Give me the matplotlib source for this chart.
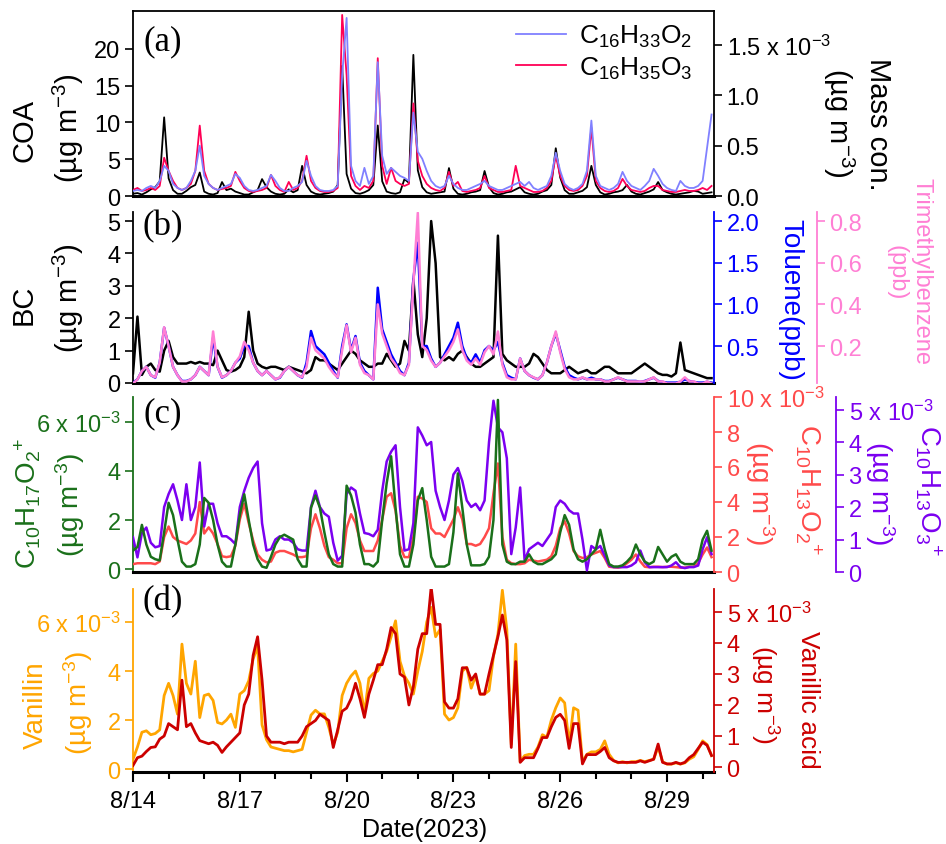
import matplotlib
matplotlib.use("Agg")
import matplotlib.pyplot as plt
import matplotlib.dates as mdates
import numpy as np
import pandas as pd

# ---------------- data (3-hourly, from 2023-08-14 00:00) ----------------
times = pd.date_range("2023-08-14 00:00", periods=131, freq="3h")

coa = [0.3,0.4,0.2,0.5,0.9,1.2,2.0,10.7,
       2.4,0.8,0.3,0.3,0.7,1.2,1.5,3.2,
       0.6,0.3,0.2,0.4,1.9,0.8,1.0,0.6,
       0.4,0.2,0.2,0.5,0.8,2.3,1.2,0.6,
       0.3,0.2,0.3,0.9,0.5,0.8,4.1,1.5,
       0.6,0.3,0.2,0.3,0.4,0.6,1.5,17.7,
       3.0,1.0,0.4,0.3,0.5,0.8,1.5,9.6,
       2.0,0.6,0.4,0.3,0.5,2.3,1.8,19.2,
       3.5,1.2,0.5,0.3,0.4,0.5,0.6,3.8,
       1.0,0.3,0.2,0.3,0.5,0.6,0.8,3.4,
       1.2,0.4,0.2,0.3,0.5,0.6,0.9,1.2,
       0.5,0.3,0.2,0.3,0.6,0.8,1.5,6.5,
       2.5,0.8,0.3,0.3,0.5,0.7,1.2,4.1,
       1.5,0.5,0.2,0.3,0.5,0.6,0.8,1.5,
       0.6,0.3,0.2,0.4,0.6,0.9,1.9,0.8,
       0.5,0.3,0.2,0.3,0.4,0.5,0.7,0.6,
       0.3,0.4,0.5]

c16h33o2 = [0.05,0.06,0.05,0.08,0.10,0.08,0.15,0.30,
            0.25,0.12,0.08,0.06,0.08,0.15,0.25,0.50,
            0.20,0.12,0.08,0.06,0.08,0.10,0.12,0.22,
            0.18,0.10,0.06,0.05,0.06,0.08,0.10,0.21,
            0.15,0.08,0.05,0.05,0.08,0.10,0.14,0.35,
            0.20,0.10,0.06,0.05,0.05,0.06,0.10,1.20,
            1.77,0.30,0.15,0.10,0.28,0.12,0.20,1.33,
            0.40,0.22,0.28,0.24,0.20,0.18,0.15,0.83,
            0.44,0.37,0.25,0.15,0.10,0.08,0.10,0.20,
            0.12,0.08,0.06,0.06,0.08,0.10,0.12,0.15,
            0.10,0.08,0.06,0.06,0.08,0.10,0.12,0.14,
            0.10,0.14,0.08,0.06,0.08,0.10,0.20,0.43,
            0.25,0.12,0.08,0.06,0.08,0.12,0.25,0.75,
            0.20,0.10,0.08,0.06,0.08,0.12,0.24,0.15,
            0.10,0.08,0.06,0.10,0.15,0.27,0.20,0.12,
            0.08,0.06,0.05,0.15,0.10,0.08,0.08,0.10,
            0.15,0.48,0.81]

c16h35o3 = [0.06,0.08,0.05,0.06,0.08,0.06,0.10,0.38,
            0.25,0.15,0.08,0.06,0.08,0.12,0.25,0.70,
            0.25,0.12,0.08,0.06,0.07,0.08,0.10,0.24,
            0.15,0.08,0.05,0.04,0.05,0.06,0.08,0.21,
            0.10,0.06,0.04,0.14,0.06,0.08,0.15,0.40,
            0.15,0.08,0.05,0.04,0.04,0.05,0.08,1.80,
            1.20,0.20,0.10,0.06,0.10,0.08,0.15,1.37,
            0.30,0.12,0.28,0.15,0.12,0.10,0.12,0.92,
            0.35,0.20,0.12,0.08,0.06,0.05,0.08,0.24,
            0.10,0.14,0.05,0.04,0.05,0.06,0.08,0.20,
            0.08,0.06,0.04,0.04,0.05,0.06,0.30,0.10,
            0.08,0.06,0.04,0.04,0.05,0.08,0.15,0.40,
            0.20,0.10,0.06,0.05,0.06,0.10,0.20,0.68,
            0.15,0.08,0.05,0.04,0.05,0.08,0.17,0.10,
            0.06,0.05,0.04,0.05,0.08,0.10,0.10,0.06,
            0.05,0.04,0.04,0.05,0.06,0.05,0.05,0.06,
            0.08,0.06,0.10]

bc = [0.3,2.05,0.25,0.5,0.6,0.4,0.35,1.0,
      1.3,0.8,0.6,0.6,0.6,0.65,0.6,0.65,
      0.6,0.6,0.55,1.0,0.7,0.4,0.35,0.4,
      0.5,0.8,2.2,1.0,0.6,0.5,0.45,0.5,
      0.5,0.45,0.4,0.5,0.45,0.4,0.35,0.3,
      0.4,0.8,0.7,0.7,0.6,0.5,0.4,0.6,
      0.8,1.0,0.9,0.7,0.6,0.5,0.5,0.6,
      0.6,0.9,0.7,0.5,0.6,1.3,1.0,3.2,
      1.5,0.8,2.0,5.0,3.7,0.8,0.7,0.8,
      0.7,0.9,1.0,0.8,0.6,0.5,0.5,0.6,
      0.7,0.8,4.55,0.9,0.7,0.6,0.5,0.5,
      0.5,0.6,0.9,0.8,0.6,0.4,0.3,0.3,
      0.3,0.4,0.5,0.4,0.3,0.35,0.4,0.3,
      0.3,0.4,0.5,0.5,0.4,0.3,0.3,0.3,
      0.3,0.4,0.5,0.6,0.5,0.4,0.3,0.25,
      0.25,0.2,0.3,1.25,0.4,0.35,0.3,0.25,
      0.2,0.15,0.15]

toluene = [0.06,0.1,0.2,0.25,0.15,0.12,0.3,0.72,
           0.5,0.25,0.15,0.08,0.08,0.1,0.15,0.25,
           0.2,0.15,0.6,0.25,0.12,0.15,0.2,0.3,
           0.35,0.5,0.5,0.3,0.2,0.15,0.2,0.15,
           0.1,0.12,0.2,0.25,0.2,0.15,0.12,0.3,
           0.68,0.5,0.45,0.4,0.3,0.2,0.12,0.5,
           0.76,0.45,0.62,0.3,0.2,0.15,0.1,1.2,
           0.7,0.55,0.4,0.3,0.2,0.15,0.3,1.3,
           1.74,0.5,0.5,0.35,0.25,0.3,0.4,0.5,
           0.6,0.78,0.5,0.35,0.3,0.4,0.3,0.45,
           0.5,0.45,0.55,0.3,0.15,0.12,0.1,0.35,
           0.2,0.15,0.12,0.1,0.15,0.3,0.5,0.65,
           0.45,0.25,0.15,0.12,0.1,0.12,0.1,0.12,
           0.1,0.1,0.08,0.08,0.1,0.12,0.1,0.08,
           0.08,0.08,0.07,0.08,0.1,0.12,0.08,0.07,
           0.06,0.06,0.06,0.07,0.1,0.08,0.07,0.06,
           0.06,0.07,0.06]

tmb = [0.02,0.04,0.08,0.1,0.06,0.05,0.12,0.29,
       0.2,0.1,0.06,0.03,0.03,0.04,0.06,0.1,
       0.08,0.06,0.27,0.1,0.05,0.06,0.08,0.12,
       0.15,0.22,0.18,0.12,0.08,0.06,0.08,0.06,
       0.04,0.05,0.08,0.1,0.08,0.06,0.05,0.1,
       0.24,0.18,0.16,0.14,0.1,0.07,0.05,0.18,
       0.3,0.17,0.24,0.11,0.07,0.06,0.04,0.4,
       0.26,0.2,0.14,0.11,0.07,0.06,0.11,0.5,
       0.84,0.2,0.18,0.13,0.1,0.12,0.15,0.18,
       0.22,0.28,0.18,0.13,0.11,0.14,0.11,0.17,
       0.2,0.16,0.27,0.11,0.05,0.04,0.04,0.14,
       0.08,0.06,0.05,0.04,0.06,0.12,0.2,0.27,
       0.17,0.09,0.05,0.04,0.04,0.05,0.04,0.04,
       0.04,0.04,0.03,0.03,0.04,0.05,0.04,0.03,
       0.03,0.03,0.03,0.03,0.04,0.05,0.03,0.03,
       0.02,0.02,0.02,0.03,0.05,0.03,0.03,0.02,
       0.02,0.03,0.02]

c10h17o2 = [0.75,0.9,1.8,1.0,0.5,0.4,0.35,1.5,
            2.7,2.2,1.2,0.3,0.1,0.1,0.2,1.0,
            2.9,2.7,2.0,1.0,0.3,0.1,0.1,1.0,
            2.2,3.05,2.0,1.0,0.4,0.1,0.05,0.5,
            1.0,1.3,1.4,1.3,1.2,0.4,0.1,0.1,
            2.5,3.0,2.5,1.5,0.6,0.2,0.1,0.1,
            3.4,3.0,2.3,1.0,0.2,0.2,0.1,0.3,
            2.0,3.5,4.6,2.5,0.6,0.1,0.1,1.0,
            2.8,3.3,2.0,0.5,0.1,0.1,0.1,0.2,
            1.5,3.9,2.5,1.0,0.15,0.15,0.15,0.2,
            0.5,2.0,6.9,1.0,0.3,0.2,0.2,0.3,
            0.3,0.6,0.3,0.2,0.2,0.3,0.4,0.6,
            1.5,2.2,1.8,0.8,0.4,0.3,0.4,0.6,
            0.8,1.6,0.8,0.2,0.1,0.1,0.15,0.3,
            0.5,1.0,0.6,0.3,0.2,0.3,0.9,0.6,
            0.3,0.5,0.6,0.3,0.2,0.2,0.2,0.4,
            1.2,1.56,0.75]

c10h13o2 = [0.45,0.5,0.5,0.5,0.5,0.45,0.6,2.0,
            2.6,2.0,1.8,1.7,1.6,1.8,2.2,4.0,
            2.2,2.55,2.2,1.6,0.9,0.85,0.9,1.5,
            3.0,3.9,2.8,1.8,1.0,0.7,0.55,0.6,
            1.1,1.2,1.2,1.1,1.0,0.85,0.85,0.9,
            2.5,3.3,2.5,1.5,0.85,0.7,0.5,0.5,
            2.5,3.3,2.8,1.8,1.2,1.2,1.2,1.8,
            3.0,4.3,4.5,3.5,1.5,0.85,0.85,2.0,
            4.3,4.2,4.0,2.5,2.2,2.2,2.0,2.5,
            3.0,3.7,3.0,1.6,1.6,1.5,1.6,2.0,
            2.5,4.5,6.2,2.0,0.7,0.5,0.45,0.45,
            0.5,0.7,0.65,0.6,0.65,0.7,0.9,1.5,
            2.5,2.9,2.2,1.2,0.9,0.8,0.85,1.0,
            1.1,1.2,0.8,0.3,0.27,0.25,0.3,0.5,
            0.7,1.0,0.6,0.3,0.27,0.3,0.3,0.28,
            0.3,0.3,0.28,0.25,0.25,0.3,0.3,0.5,
            1.0,1.4,0.85]

c10h13o3 = [1.07,0.45,1.2,1.37,0.9,0.76,0.8,2.0,
            2.4,2.7,2.2,1.6,2.7,1.6,2.0,3.37,
            1.4,2.1,2.1,1.5,1.1,1.1,1.0,0.86,
            2.0,2.5,2.9,3.2,3.4,1.5,0.66,0.7,
            1.0,1.1,1.0,1.0,0.9,0.7,0.66,0.66,
            2.0,2.5,2.0,1.8,1.7,0.9,0.35,0.5,
            2.4,2.6,2.5,1.8,1.2,1.17,1.1,1.3,
            2.5,3.4,3.7,3.9,2.0,0.66,0.7,1.5,
            4.45,4.2,3.9,4.0,2.5,2.0,1.6,2.2,
            3.0,3.2,2.8,2.2,2.0,2.1,1.9,2.2,
            4.0,5.27,4.45,4.3,3.5,0.55,1.37,2.6,
            0.35,0.7,0.8,0.9,0.8,1.0,1.2,2.0,
            2.2,2.1,1.9,1.8,1.8,1.0,0.05,0.8,
            0.7,0.8,0.5,0.2,0.15,0.15,0.15,0.15,
            0.2,0.3,0.66,0.3,0.15,0.15,0.15,0.15,
            0.15,0.2,0.3,0.15,0.12,0.15,0.15,0.2,
            0.7,1.07,0.55]

vanillin = [0.4,0.9,1.5,1.56,1.4,1.45,1.6,3.0,
            3.5,3.0,2.24,5.1,3.5,3.06,4.4,2.1,
            3.0,3.06,2.8,1.9,1.84,2.0,2.24,1.7,
            3.06,3.2,3.6,4.5,5.0,1.8,1.2,0.9,
            0.85,0.8,0.75,0.75,0.7,0.75,0.8,1.5,
            2.2,2.4,2.25,2.25,1.7,1.0,1.5,3.0,
            3.5,3.8,4.0,3.5,2.25,3.7,3.9,4.0,
            4.4,4.8,5.4,6.05,4.4,3.8,3.5,3.06,
            4.0,4.8,6.0,6.6,5.4,5.7,2.24,2.0,
            2.1,2.5,4.0,4.15,3.3,3.8,3.06,3.06,
            3.2,4.6,5.5,7.3,5.7,1.0,5.1,0.3,
            0.55,0.6,0.6,0.9,1.4,1.3,2.0,2.5,
            2.9,2.7,1.0,2.5,2.4,0.3,0.6,0.7,
            0.7,0.8,1.15,0.6,0.35,0.25,0.3,0.25,
            0.3,0.3,0.35,0.3,0.35,0.4,0.9,0.3,
            0.2,0.2,0.25,0.2,0.25,0.4,0.5,0.8,
            1.15,1.0,0.55]

vanillic_acid = [0.05,0.3,0.35,0.5,0.63,0.65,0.9,1.0,
                 1.4,1.3,1.2,2.8,1.3,1.4,1.1,0.85,
                 0.8,0.75,0.8,0.7,0.47,0.65,0.8,0.95,
                 1.1,2.0,2.35,3.6,4.2,2.8,1.0,0.8,
                 0.8,0.8,0.75,0.8,0.8,0.8,1.0,1.3,
                 1.4,1.5,1.7,1.6,1.5,0.63,1.2,1.8,
                 1.9,2.2,2.7,2.2,1.6,2.35,2.8,3.3,
                 3.3,3.8,4.5,4.3,3.0,2.9,2.0,2.6,
                 3.8,4.3,4.3,5.8,4.6,4.6,2.1,1.9,
                 1.9,2.2,3.2,3.2,2.8,3.0,2.35,2.35,
                 3.0,3.6,4.2,4.9,4.1,0.63,3.4,0.15,
                 0.3,0.3,0.3,0.6,0.95,0.95,1.3,1.6,
                 1.7,1.5,0.6,1.4,1.4,0.1,0.4,0.4,
                 0.4,0.5,0.63,0.3,0.2,0.15,0.15,0.15,
                 0.15,0.15,0.2,0.15,0.2,0.25,0.74,0.15,
                 0.1,0.1,0.15,0.1,0.15,0.3,0.4,0.6,
                 0.8,0.7,0.37]

date_ticks = ["8/14", "8/17", "8/20", "8/23", "8/26", "8/29"]

# ---------------- style ----------------
plt.rcParams['font.family'] = ['Liberation Sans', 'DejaVu Sans']
plt.rcParams['mathtext.fontset'] = 'custom'
plt.rcParams['mathtext.rm'] = 'Liberation Sans'
plt.rcParams['mathtext.it'] = 'Liberation Sans:italic'
plt.rcParams['mathtext.bf'] = 'Liberation Sans:bold'

W, H = 946, 845
fig = plt.figure(figsize=(W / 100, H / 100), dpi=100)

TFS = 17    # tick label size
LFS = 19    # axis label size

C_BLUE = "#8080FF"
C_CRIM = "#FF0055"
C_TOL = "#0000FF"
C_TMB = "#FF7FD4"
C_GRN = "#1A701A"
C_RED = "#FF4A4A"
C_PUR = "#7B00F0"
C_ORG = "#FFA500"
C_DRED = "#CC0000"

def rect(top, bottom, left=133, right=714):
    return [left / W, 1 - bottom / H, (right - left) / W, (bottom - top) / H]

def ftext(x, y, s, color="black", rot=90, size=LFS, **kw):
    fig.text(x / W, 1 - y / H, s, color=color, rotation=rot, ha="center",
             va="center", fontsize=size, **kw)

x0 = pd.Timestamp("2023-08-14 00:00")
x1 = pd.Timestamp("2023-08-30 07:40")

def style_axis(ax, side, color, lw=1.3):
    ax.tick_params(axis="y", which="both", direction="out", length=6, width=1.2,
                   colors=color, labelsize=TFS, pad=3)
    ax.spines[side].set_color(color)
    ax.spines[side].set_linewidth(lw)

def base(ax, bottom_labels=False):
    ax.set_xlim(x0, x1)
    ax.patch.set_alpha(0)
    for s in ["top", "right"]:
        ax.spines[s].set_visible(False)
    ax.spines["bottom"].set_linewidth(2.2)
    ax.xaxis.set_major_locator(mdates.DayLocator(bymonthday=[14, 17, 20, 23, 26, 29]))
    ax.xaxis.set_minor_locator(mdates.DayLocator())
    if bottom_labels:
        ax.xaxis.set_major_formatter(plt.FixedFormatter(date_ticks))
        ax.tick_params(axis="x", which="major", direction="out", length=7, width=1.5,
                       labelsize=TFS, pad=6)
        ax.tick_params(axis="x", which="minor", direction="out", length=5, width=1.5)
    else:
        ax.tick_params(axis="x", which="both", length=0, labelbottom=False)

def twin(ax, offset_px=0, color="black"):
    t = ax.twinx()
    t.set_xlim(x0, x1)
    for s in ["top", "left", "bottom"]:
        t.spines[s].set_visible(False)
    if offset_px:
        t.spines["right"].set_position(("axes", 1 + offset_px / 581))
    style_axis(t, "right", color)
    return t

# ---------------- panel (a) ----------------
axA = fig.add_axes(rect(12, 197))
base(axA)
axA.spines["top"].set_visible(True)
axA.spines["top"].set_linewidth(1.3)
axA.plot(times, coa, color="black", lw=1.3)
axA.set_ylim(0, 25.17)
axA.set_yticks([0, 5, 10, 15, 20])
style_axis(axA, "left", "black")
axAr = twin(axA)
axAr.plot(times, c16h35o3, color=C_CRIM, lw=1.3, label="C$_{16}$H$_{35}$O$_{3}$")
axAr.plot(times, c16h33o2, color=C_BLUE, lw=1.3, label="C$_{16}$H$_{33}$O$_{2}$")
axAr.set_ylim(0, 1.839)
axAr.set_yticks([0, 0.5, 1.0, 1.5])
axAr.set_yticklabels(["0.0", "0.5", "1.0", "1.5 x 10$^{-3}$"])
h, l = axAr.get_legend_handles_labels()
axAr.legend(h[::-1], l[::-1], loc="upper left",
            bbox_to_anchor=((516 - 133) / 581, (197 - 24) / 185),
            frameon=False, fontsize=LFS, handlelength=1.9, handletextpad=0.5,
            borderpad=0, borderaxespad=0, labelspacing=0.2)
ftext(24, 131, "COA", size=21)
ftext(68, 128, "(µg m$^{-3}$)", size=21)
ftext(878, 124, "Mass con.", rot=270, size=21)
ftext(839, 123, "(µg m$^{-3}$)", rot=270, size=21)
ftext(163, 42, "(a)", size=25, rot=0, family="Liberation Serif")

# ---------------- panel (b) ----------------
axB = fig.add_axes(rect(213, 384))
base(axB)
axB.plot(times, bc, color="black", lw=1.8)
axB.set_ylim(0, 5.28)
axB.set_yticks([0, 1, 2, 3, 4, 5])
style_axis(axB, "left", "black")
axBt = twin(axB, color=C_TOL)
axBt.plot(times, toluene, color=C_TOL, lw=1.8)
axBt.set_ylim(0.056, 2.109)
axBt.set_yticks([0.5, 1.0, 1.5, 2.0])
axBt.set_yticklabels(["0.5", "1.0", "1.5", "2.0"])
axBm = twin(axB, offset_px=103, color=C_TMB)
axBm.plot(times, tmb, color=C_TMB, lw=1.8)
axBm.set_ylim(0.0225, 0.8436)
axBm.set_yticks([0.2, 0.4, 0.6, 0.8])
axBm.set_yticklabels(["0.2", "0.4", "0.6", "0.8"])
ftext(24, 305, "BC", size=21)
ftext(68, 298, "(µg m$^{-3}$)", size=21)
ftext(790, 300, "Toluene(ppb)", color=C_TOL, rot=270, size=20)
ftext(921, 272, "Trimethylbenzene", color=C_TMB, rot=270, size=17)
ftext(896, 273, "(ppb)", color=C_TMB, rot=270, size=17)
ftext(163, 227, "(b)", size=25, rot=0, family="Liberation Serif")

# ---------------- panel (c) ----------------
axC = fig.add_axes(rect(398, 573))
base(axC)
axC.set_ylim(-0.122, 7.02)
axC.set_yticks([0, 2, 4, 6])
axC.set_yticklabels(["0", "2", "4", "6 x 10$^{-3}$"])
style_axis(axC, "left", C_GRN)
axCr = twin(axC, color=C_RED)
axCr.plot(times, c10h13o2, color=C_RED, lw=1.8)
axCr.set_ylim(0, 10.0)
axCr.set_yticks([0, 2, 4, 6, 8, 10])
axCr.set_yticklabels(["0", "2", "4", "6", "8", "10 x 10$^{-3}$"])
axCp = twin(axC, offset_px=122, color=C_PUR)
axCp.plot(times, c10h13o3, color=C_PUR, lw=1.8)
axCp.set_ylim(0, 5.385)
axCp.set_yticks([0, 1, 2, 3, 4, 5])
axCp.set_yticklabels(["0", "1", "2", "3", "4", "5 x 10$^{-3}$"])
axCg = axC.twinx()
axCg.set_xlim(x0, x1)
axCg.set_ylim(-0.122, 7.02)
axCg.axis("off")
axCg.plot(times, c10h17o2, color=C_GRN, lw=1.8)
ftext(28, 503, "C$_{10}$H$_{17}$O$_{2}$$^{+}$", color=C_GRN, size=20)
ftext(70, 505, "(µg m$^{-3}$)", color=C_GRN, size=20)
ftext(808, 490, "C$_{10}$H$_{13}$O$_{2}$$^{+}$", color=C_RED, rot=270, size=20)
ftext(760, 493, "(µg m$^{-3}$)", color=C_RED, rot=270, size=20)
ftext(928, 491, "C$_{10}$H$_{13}$O$_{3}$$^{+}$", color=C_PUR, rot=270, size=20)
ftext(880, 493, "(µg m$^{-3}$)", color=C_PUR, rot=270, size=20)
ftext(163, 414, "(c)", size=25, rot=0, family="Liberation Serif")

# ---------------- panel (d) ----------------
axD = fig.add_axes(rect(590, 773))
base(axD, bottom_labels=True)
axD.plot(times, vanillin, color=C_ORG, lw=2.0)
axD.set_ylim(-0.122, 7.35)
axD.set_yticks([0, 2, 4, 6])
axD.set_yticklabels(["0", "2", "4", "6 x 10$^{-3}$"])
style_axis(axD, "left", C_ORG)
axDr = twin(axD, color=C_DRED)
axDr.plot(times, vanillic_acid, color=C_DRED, lw=2.0)
axDr.set_ylim(-0.161, 5.74)
axDr.set_yticks([0, 1, 2, 3, 4, 5])
axDr.set_yticklabels(["0", "1", "2", "3", "4", "5 x 10$^{-3}$"])
ftext(36, 705, "Vanillin", color=C_ORG, size=20)
ftext(78, 703, "(µg m$^{-3}$)", color=C_ORG, size=20)
ftext(808, 700, "Vanillic acid", color=C_DRED, rot=270, size=19)
ftext(764, 695, "(µg m$^{-3}$)", color=C_DRED, rot=270, size=19)
ftext(163, 602, "(d)", size=25, rot=0, family="Liberation Serif")
ftext(425, 830, "Date(2023)", rot=0, size=18)

fig.savefig("out.png", dpi=100)
